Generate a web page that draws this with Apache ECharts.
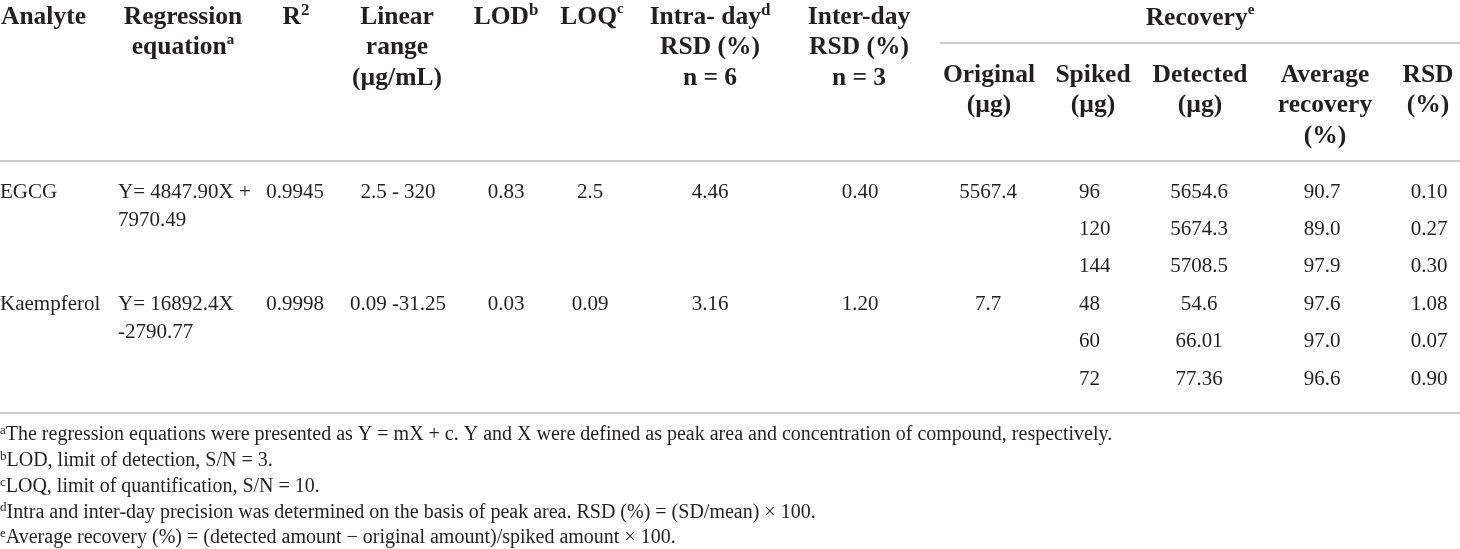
<!DOCTYPE html>
<html>
<head>
<meta charset="utf-8">
<script src="https://cdn.jsdelivr.net/npm/echarts@6/dist/echarts.min.js"></script>
<style>
  html, body { margin: 0; padding: 0; background: #fff; }
  #main { width: 1460px; height: 549px; }
</style>
</head>
<body>
<div id="main"></div>
<script>
// table contents
const analytes = ["EGCG", "Kaempferol"];
const regressionEq = [["Y= 4847.90X +", "7970.49"], ["Y= 16892.4X", "-2790.77"]];
const rSquared = ["0.9945", "0.9998"];
const linearRange = ["2.5 - 320", "0.09 -31.25"];
const lod = ["0.83", "0.03"];
const loq = ["2.5", "0.09"];
const intraRsd = ["4.46", "3.16"];
const interRsd = ["0.40", "1.20"];
const originalAmt = ["5567.4", "7.7"];
const spiked = [["96", "120", "144"], ["48", "60", "72"]];
const detected = [["5654.6", "5674.3", "5708.5"], ["54.6", "66.01", "77.36"]];
const avgRecovery = [["90.7", "89.0", "97.9"], ["97.6", "97.0", "96.6"]];
const recoveryRsd = [["0.10", "0.27", "0.30"], ["1.08", "0.07", "0.90"]];

const headers = [
  "Analyte",
  "Regression\nequation{sup|a}",
  "R{sup2|2}",
  "Linear\nrange\n(µg/mL)",
  "LOD{sup2|b}",
  "LOQ{sup|c}",
  "Intra- day{sup2|d}\nRSD (%)\nn = 6",
  "Inter-day\nRSD (%)\nn = 3",
];
const recoveryTitle = "Recovery{sup|e}";
const recoveryHeaders = ["Original\n(µg)", "Spiked\n(µg)", "Detected\n(µg)", "Average\nrecovery\n(%)", "RSD\n(%)"];

const footnotes = [
  ["a", "The regression equations were presented as Y = mX + c. Y and X were defined as peak area and concentration of compound, respectively."],
  ["b", "LOD, limit of detection, S/N = 3."],
  ["c", "LOQ, limit of quantification, S/N = 10."],
  ["d", "Intra and inter-day precision was determined on the basis of peak area. RSD (%) = (SD/mean) × 100."],
  ["e", "Average recovery (%) = (detected amount − original amount)/spiked amount × 100."],
];

const chart = echarts.init(document.getElementById("main"), null, { renderer: "canvas" });

const serif = "'Liberation Serif', 'Times New Roman', serif";
const ink = "#231f20";
const ruleColor = "#cccccc";

// layout
const headCols = [1, 183, 296, 397, 506, 592, 710, 859];
const headAlign = ["left", "center", "center", "center", "center", "center", "center", "center"];
const recCols = [989, 1093, 1200, 1325, 1428];
const headLine = 30.5;
const rowY0 = 192, rowStep = 37.4, wrapStep = 28.5;

const headRich = {
  sup: { fontSize: 15, fontWeight: "bold", fontFamily: serif, verticalAlign: "top", lineHeight: 22, fill: ink },
  sup2: { fontSize: 17, fontWeight: "bold", fontFamily: serif, verticalAlign: "top", lineHeight: 22, fill: ink },
};

function headText(str, x, y, align) {
  return {
    type: "text", x: x, y: y - headLine / 2,
    style: {
      text: str, fill: ink, fontFamily: serif, fontSize: 25.5, fontWeight: "bold",
      font: "bold 25.5px " + serif,
      align: align, verticalAlign: "top", lineHeight: headLine, rich: headRich,
    },
  };
}

function bodyText(str, x, y, align) {
  return {
    type: "text", x: x, y: y,
    style: {
      text: str, fill: ink, fontFamily: serif, fontSize: 21,
      font: "21px " + serif,
      align: align || "center", verticalAlign: "middle",
    },
  };
}

function rule(x1, x2, y) {
  return {
    type: "line",
    shape: { x1: x1, y1: y, x2: x2, y2: y },
    style: { stroke: ruleColor, lineWidth: 2 },
  };
}

const elements = [];

headers.forEach((h, i) => elements.push(headText(h, headCols[i], 17, headAlign[i])));
elements.push(headText(recoveryTitle, 1200, 18, "center"));
recoveryHeaders.forEach((h, i) => elements.push(headText(h, recCols[i], 75, "center")));

elements.push(rule(940, 1460, 43));
elements.push(rule(0, 1460, 161));
elements.push(rule(0, 1460, 413));

analytes.forEach((name, a) => {
  const y = rowY0 + a * 3 * rowStep;
  elements.push(bodyText(name, 0, y, "left"));
  elements.push(bodyText(regressionEq[a][0], 118, y, "left"));
  elements.push(bodyText(regressionEq[a][1], 118, y + wrapStep, "left"));
  elements.push(bodyText(rSquared[a], 295, y));
  elements.push(bodyText(linearRange[a], 398, y));
  elements.push(bodyText(lod[a], 506, y));
  elements.push(bodyText(loq[a], 590, y));
  elements.push(bodyText(intraRsd[a], 710, y));
  elements.push(bodyText(interRsd[a], 860, y));
  elements.push(bodyText(originalAmt[a], 988, y));
  spiked[a].forEach((v, k) => {
    const yy = y + k * rowStep;
    elements.push(bodyText(v, 1079, yy, "left"));
    elements.push(bodyText(detected[a][k], 1199, yy));
    elements.push(bodyText(avgRecovery[a][k], 1322, yy));
    elements.push(bodyText(recoveryRsd[a][k], 1429, yy));
  });
});

footnotes.forEach((f, i) => {
  elements.push({
    type: "text", x: 0, y: 435 + i * 25.8,
    style: {
      text: "{s|" + f[0] + "}" + f[1], fill: ink, fontFamily: serif, fontSize: 20,
      align: "left", verticalAlign: "middle", lineHeight: 22,
      rich: { s: { fontSize: 13, fontFamily: serif, verticalAlign: "top", lineHeight: 22, fill: ink } },
    },
  });
});

chart.setOption({
  backgroundColor: "#fff",
  animation: false,
  graphic: { elements: elements },
});
</script>
</body>
</html>
